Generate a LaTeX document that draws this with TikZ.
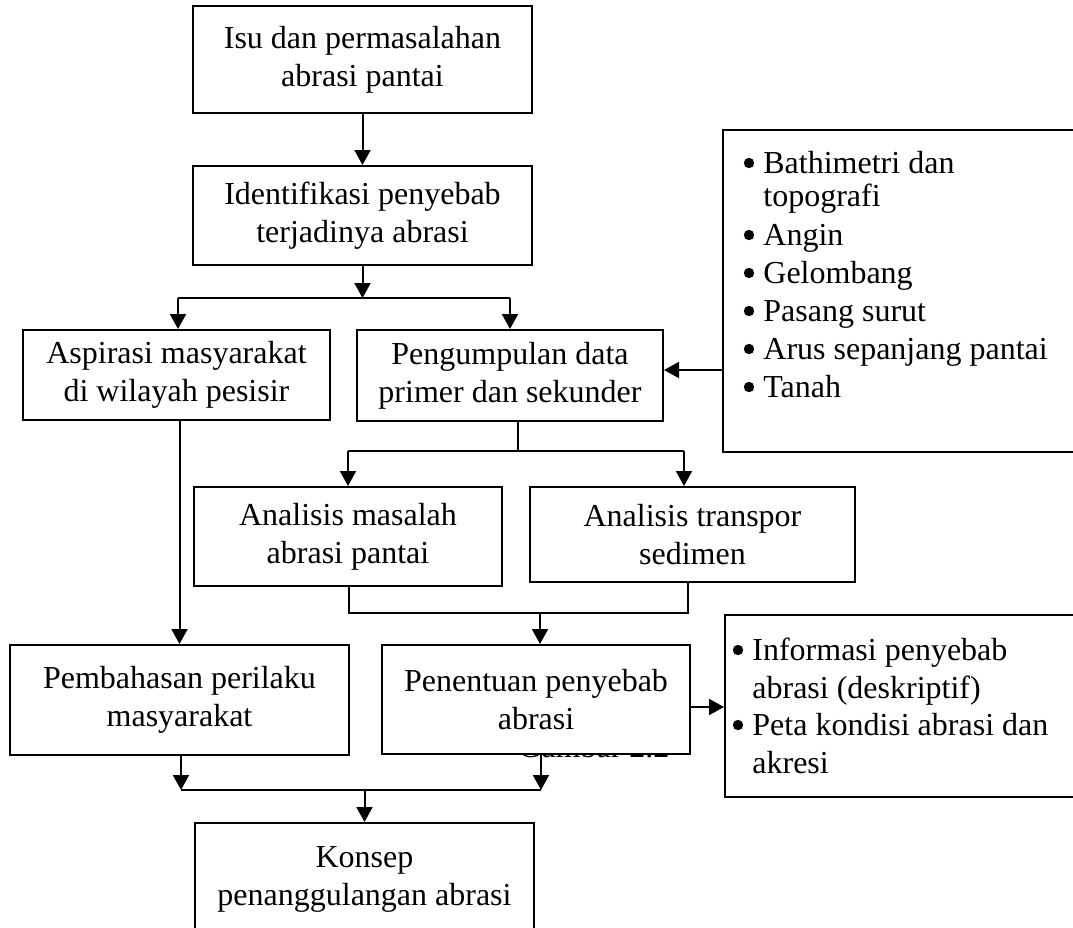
\documentclass[tikz,border=0pt]{standalone}
\usepackage{fontspec}
\setmainfont{Liberation Serif}
\usetikzlibrary{arrows.meta}
\newcommand\boxfont{\fontsize{16}{19}\selectfont}
\begin{document}
\begin{tikzpicture}[x=0.5pt,y=-0.5pt,
  box/.style={draw, line width=1pt, fill=white, align=center, inner sep=0pt, font=\boxfont},
  frame/.style={draw, line width=1pt, fill=white, inner sep=0pt},
  arr/.style={line width=1pt, -{Triangle[length=7.5pt,width=8pt]}},
  ln/.style={line width=1pt},
  item/.style={anchor=base west, inner sep=0pt, font=\boxfont},
  dot/.style={fill=black}]
\useasboundingbox (0,0) rectangle (1073,928);
\clip (0,0) rectangle (1073,928);
\fill[white] (0,0) rectangle (1073,928);

% main boxes
\node[box, minimum width=169.5pt, minimum height=53.5pt] (isu) at (362.5,59.5) {Isu dan permasalahan\\abrasi pantai};
\node[box, minimum width=169.5pt, minimum height=49.5pt] (iden) at (362.5,215.5) {Identifikasi penyebab\\terjadinya abrasi};
\node[box, minimum width=153.5pt, minimum height=45pt] (asp) at (176.5,375) {Aspirasi masyarakat\\di wilayah pesisir};
\node[box, minimum width=153pt, minimum height=45.5pt] (peng) at (510,375.5) {Pengumpulan data\\primer dan sekunder};
\node[box, minimum width=154pt, minimum height=49.5pt] (am) at (348,536.5) {Analisis masalah\\abrasi pantai};
\node[box, minimum width=162.5pt, minimum height=47.5pt] (at) at (692.5,534.5) {Analisis transpor\\sedimen};
\node[box, minimum width=169.5pt, minimum height=55pt] (pemb) at (179.5,700) {Pembahasan perilaku\\masyarakat};
\node[item] (gam) at (518,757) {Gambar 2.2};
\node[box, minimum width=154pt, minimum height=54.5pt] (pen) at (536,699.5) {Penentuan penyebab\\abrasi};
\node[box, minimum width=169.5pt, minimum height=56pt] (kon) at (364.5,879) {Konsep\\penanggulangan abrasi};

% input list box
\node[frame, minimum width=183.5pt, minimum height=161pt] (inlist) at (906.5,291) {};
\node[item] (u1) at (763,173) {Bathimetri dan};
\node[item] (u1b) at (763,206) {topografi};
\node[item] (u2) at (763,245) {Angin};
\node[item] (u3) at (763,283) {Gelombang};
\node[item] (u4) at (763,321) {Pasang surut};
\node[item] (u5) at (763,359) {Arus sepanjang pantai};
\node[item] (u6) at (763,397) {Tanah};
\foreach \n in {u1,u2,u3,u4,u5,u6}
  \fill[dot] ([shift={(-14,-10)}]\n.base west) circle (2.6pt);

% output list box
\node[frame, minimum width=182.5pt, minimum height=91pt] (outlist) at (907.5,706) {};
\node[item] (o1) at (752,660) {Informasi penyebab};
\node[item] (o1b) at (752,698) {abrasi (deskriptif)};
\node[item] (o2) at (752,735) {Peta kondisi abrasi dan};
\node[item] (o2b) at (752,773) {akresi};
\foreach \n in {o1,o2}
  \fill[dot] ([shift={(-14,-10)}]\n.base west) circle (2.6pt);

% connectors
\draw[arr] (isu.south) -- (iden.north);
\coordinate (j1) at (362.5,298);
\coordinate (j1l) at (178,298);
\coordinate (j1r) at (510,298);
\draw[arr] (iden.south) -- (j1);
\draw[ln] (j1l) -- (j1r);
\draw[arr] (j1l) -- (j1l |- asp.north);
\draw[arr] (j1r) -- (peng.north);

\coordinate (a1) at (723,370);
\draw[arr] (a1) -- (a1 -| peng.east);

\coordinate (j2) at (518,451);
\coordinate (j2l) at (348,451);
\coordinate (j2r) at (684,451);
\draw[ln] (j2 |- peng.south) -- (j2);
\draw[ln] (j2l) -- (j2r);
\draw[arr] (j2l) -- (am.north);
\draw[arr] (j2r) -- (j2r |- at.north);

\coordinate (m1) at (349,613);
\coordinate (m2) at (688,613);
\coordinate (m3) at (540,613);
\draw[ln] (m1 |- am.south) -- (m1) -- (m2) -- (m2 |- at.south);
\draw[arr] (m3) -- (m3 |- pen.north);

\draw[arr] (asp.south -| pemb.north) -- (pemb.north);

\draw[arr] ([yshift=-3.75pt]pen.east) -- ([yshift=-3.75pt]pen.east -| outlist.west);

\coordinate (k1) at (181,790);
\coordinate (k2) at (541,790);
\draw[arr] (k1 |- pemb.south) -- (k1);
\draw[arr] (k2 |- pen.south) -- (k2);
\draw[ln] (k1) -- (k2);
\draw[arr] (k1 -| kon.north) -- (kon.north);
\end{tikzpicture}
\end{document}
